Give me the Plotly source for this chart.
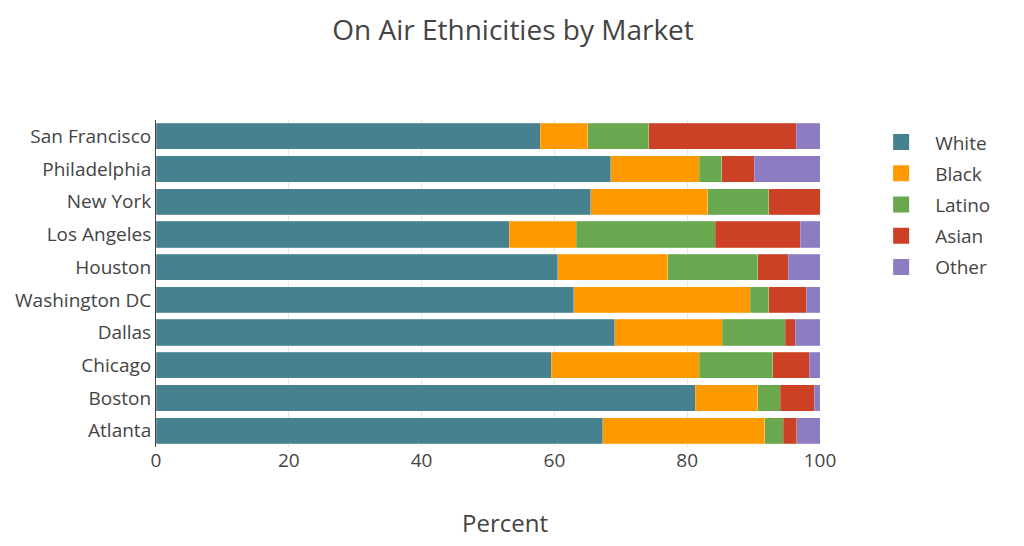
import plotly.graph_objects as go

markets = ["Atlanta", "Boston", "Chicago", "Dallas", "Washington DC",
           "Houston", "Los Angeles", "New York", "Philadelphia", "San Francisco"]
white = [67.3, 81.2, 59.5, 69.1, 62.9, 60.5, 53.2, 65.5, 68.5, 57.9]
black = [24.4, 9.4, 22.3, 16.2, 26.6, 16.6, 10.1, 17.6, 13.3, 7.1]
latino = [2.8, 3.4, 11.1, 9.5, 2.8, 13.5, 20.9, 9.2, 3.4, 9.2]
asian = [2.0, 5.1, 5.5, 1.5, 5.6, 4.6, 12.8, 7.7, 4.9, 22.2]
other = [3.5, 0.9, 1.6, 3.7, 2.1, 4.8, 3.0, 0.0, 9.9, 3.6]

series = [("White", white, "#45818e"), ("Black", black, "#ff9900"),
          ("Latino", latino, "#6aa84f"), ("Asian", asian, "#cc4125"),
          ("Other", other, "#8e7cc3")]

fig = go.Figure()
for name, vals, color in series:
    fig.add_trace(go.Bar(y=markets, x=vals, name=name, orientation="h", showlegend=False,
                         legendgroup=name,
                         marker=dict(color=color, line=dict(color="rgba(255,255,255,0.4)", width=0.5))))
for name, vals, color in series:
    fig.add_trace(go.Scatter(x=[None], y=[None], mode="markers", name=name, legendgroup=name,
                             marker=dict(symbol="square", size=16, color=color)))

plot_w = 1024 - 156 - 204
plot_h = 546 - 120 - 99

fig.update_layout(
    barmode="stack",
    bargap=0.2,
    width=1024, height=546,
    margin=dict(l=156, r=204, t=120, b=99),
    paper_bgcolor="white", plot_bgcolor="white",
    font=dict(family="Open Sans", size=19, color="#444"),
    title=dict(text="On Air Ethnicities by Market", x=0.501, xref="container", y=0.945,
               xanchor="center", yanchor="middle", font=dict(size=28, color="#444")),
    xaxis=dict(range=[0, 100], dtick=20, showgrid=True, gridcolor="#e6e6e6",
               zeroline=False, showline=False, ticks="", tickfont=dict(size=19)),
    yaxis=dict(showline=True, linecolor="#444", linewidth=1, ticks="", showgrid=False,
               tickfont=dict(size=19),
               categoryorder="array", categoryarray=markets),
    legend=dict(x=1.071, y=0.99, xanchor="left", yanchor="top", itemwidth=58,
                traceorder="grouped", font=dict(size=19), tracegroupgap=3.5),
    annotations=[dict(text="Percent", x=(505 - 156) / plot_w, xref="paper",
                      y=(546 - 99 - 522) / plot_h, yref="paper",
                      xanchor="center", yanchor="middle",
                      showarrow=False, font=dict(size=24, color="#444"))],
)

fig.write_html("out.html")
